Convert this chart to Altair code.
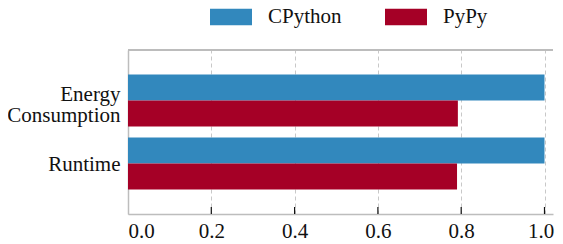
import altair as alt
import pandas as pd

metrics = ["Energy Consumption", "Runtime"]
interpreters = ["CPython", "PyPy"]
cpython_vals = [1.0, 1.0]
pypy_vals = [0.792, 0.790]
tick_vals = [0.0, 0.2, 0.4, 0.6, 0.8, 1.0]

rows = []
for m, c, p in zip(metrics, cpython_vals, pypy_vals):
    rows.append({"metric": m, "interp": "CPython", "value": c})
    rows.append({"metric": m, "interp": "PyPy", "value": p})
df = pd.DataFrame(rows)
ticks_df = pd.DataFrame({"t": tick_vals[1:]})

W = 425
H = 164
FONT = "Liberation Serif"
FS = 21
xscale = alt.Scale(domain=[0, W / 416.5], nice=False, zero=True)

bars = alt.Chart(df).mark_bar().encode(
    x=alt.X("value:Q", scale=xscale,
            axis=alt.Axis(values=tick_vals, format=".1f", title=None, grid=True,
                          gridDash=[4, 3], gridColor="#c8c8c8", gridWidth=1,
                          ticks=False, domainColor="#bdbdbd", domainWidth=1.5,
                          labelFontSize=FS, labelFont=FONT, labelColor="#111",
                          labelPadding=6,
                          labelOffset={"condition": {"test": "datum.value == 1", "value": -4},
                                       "value": 0})),
    y=alt.Y("metric:N", sort=metrics,
            scale=alt.Scale(paddingInner=0.175, paddingOuter=0.39),
            axis=alt.Axis(title=None, ticks=False, domainColor="#bdbdbd", domainWidth=1.5,
                          labelFontSize=FS, labelFont=FONT, labelColor="#111",
                          labelExpr="split(datum.label, ' ')", labelLineHeight=21,
                          labelPadding=8, grid=False,
                          labelOffset={"condition": {"test": "datum.value == 'Energy Consumption'",
                                                     "value": -6},
                                       "value": 2})),
    yOffset=alt.YOffset("interp:N", sort=interpreters),
    color=alt.Color("interp:N", sort=interpreters,
                    scale=alt.Scale(domain=interpreters, range=["#3288bd", "#a50026"]),
                    legend=alt.Legend(title=None, orient="none", direction="horizontal",
                                      legendX=82, legendY=-54,
                                      symbolType="M-1,-0.393L1,-0.393L1,0.393L-1,0.393Z",
                                      symbolSize=1764, symbolStrokeWidth=0,
                                      labelFontSize=FS, labelFont=FONT, labelColor="#111",
                                      labelOffset=16, columnPadding=43)),
)

inner_ticks = alt.Chart(ticks_df).mark_rule(color="#111", strokeWidth=1.2).encode(
    x=alt.X("t:Q", scale=xscale),
    y=alt.value(H - 7),
    y2=alt.value(H),
)

top_border = alt.Chart(ticks_df).mark_rule(color="#bdbdbd", strokeWidth=1.5).encode(
    x=alt.value(0), x2=alt.value(W), y=alt.value(0)
)

chart = alt.layer(bars, inner_ticks, top_border).properties(
    width=W, height=H,
    padding={"left": 120, "top": 42, "right": 2, "bottom": 30},
    autosize=alt.AutoSizeParams(type="none"),
).configure(font=FONT).configure_view(stroke=None)

chart.save("out.html", embed_options={"renderer": "svg", "actions": False})
